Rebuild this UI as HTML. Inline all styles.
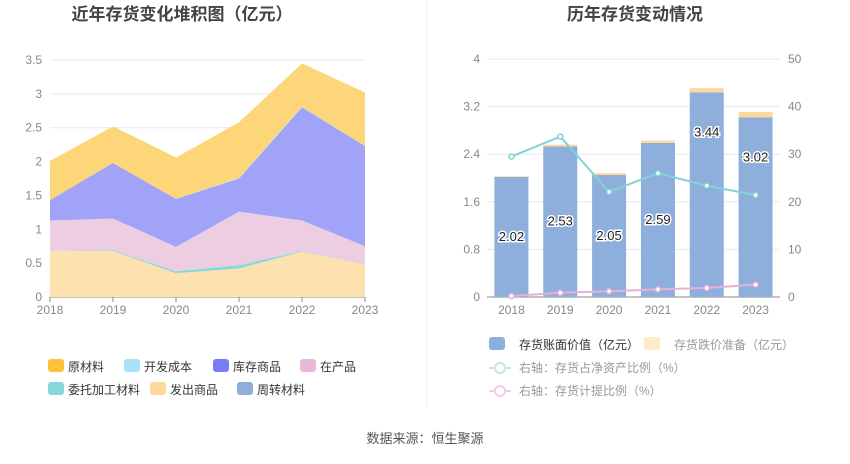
<!DOCTYPE html>
<html><head><meta charset="utf-8"><style>
body{margin:0;background:#fff;font-family:"Liberation Sans","Noto Sans CJK SC",sans-serif;}
svg text{font-family:"Liberation Sans","Noto Sans CJK SC",sans-serif;}
</style></head><body>
<svg id="c" width="850" height="459" xmlns="http://www.w3.org/2000/svg">
<text x="182" y="20" font-size="17" font-weight="bold" fill="#444" text-anchor="middle">近年存货变化堆积图（亿元）</text>
<text x="635" y="20" font-size="17" font-weight="bold" fill="#444" text-anchor="middle">历年存货变动情况</text>
<line x1="427" y1="0" x2="427" y2="408" stroke="#f0f0f0"/>
<g id="left"></g>
<g id="right"></g>
<g id="legL"></g>
<g id="legR"></g>
<text x="425" y="443" font-size="13" fill="#555" text-anchor="middle">数据来源：恒生聚源</text>
</svg>
<script>
const years=["2018","2019","2020","2021","2022","2023"];
const faChu=[0.68,0.68,0.35,0.42,0.67,0.48];
const weiTuo=[0,0.01,0.03,0.05,0.01,0];
const zaiChan=[0.45,0.47,0.36,0.79,0.45,0.27];
const kuCun=[0.30,0.82,0.71,0.49,1.67,1.48];
const kaiFa=[0,0,0,0.01,0.01,0];
const yuanCai=[0.58,0.54,0.61,0.82,0.64,0.79];
const zhouZhuan=[0,0,0,0,0,0];
const leftTicks=[0,0.5,1,1.5,2,2.5,3,3.5];
const bookValue=[2.02,2.53,2.05,2.59,3.44,3.02];
const reserve=[0.01,0.03,0.03,0.04,0.07,0.09];
const ratioNet=[29.5,33.7,22.1,26.0,23.4,21.4];
const ratioProv=[0.2,0.9,1.2,1.6,1.9,2.6];
const rightTicksL=[0,0.8,1.6,2.4,3.2,4];
const rightTicksR=[0,10,20,30,40,50];

const NS="http://www.w3.org/2000/svg";
function mk(p,t,a){const e=document.createElementNS(NS,t);for(const k in a)e.setAttribute(k,a[k]);p.appendChild(e);return e;}
// left chart
const L=document.getElementById('left');
const lx=i=>50+i*63, ly=v=>297-v*(237/3.5);
leftTicks.forEach(t=>{
  const g=mk(L,'line',{x1:50,x2:365,y1:ly(t),y2:ly(t),stroke:t?'#e3e8f3':'#888'});
  
  const tx=mk(L,'text',{x:42,y:ly(t)+4,'font-size':12,fill:'#888','text-anchor':'end'});tx.textContent=t;
  
});
years.forEach((y,i)=>{
  const tx=mk(L,'text',{x:lx(i),y:314,'font-size':12,fill:'#888','text-anchor':'middle'});tx.textContent=y;
  
  mk(L,'line',{x1:lx(i),x2:lx(i),y1:297,y2:302,stroke:'#888'});
});
const series=[["发出商品",faChu,"#fde2b0"],["委托加工材料",weiTuo,"#8ad8d8"],["在产品",zaiChan,"#edcde2"],["库存商品",kuCun,"#a0a3f8"],["开发成本",kaiFa,"#a8e2f8"],["原材料",yuanCai,"#fed67a"],["周转材料",zhouZhuan,"#8eaedc"]];
let base=years.map(()=>0);
series.forEach(([n,v,c])=>{
  const top=base.map((b,i)=>b+v[i]);
  let d='M'+years.map((_,i)=>lx(i)+','+ly(top[i])).join('L');
  for(let i=years.length-1;i>=0;i--)d+='L'+lx(i)+','+ly(base[i]);
  const p=mk(L,'path',{d:d+'Z',fill:c});
  
  base=top;
});
// right chart
const R=document.getElementById('right');
const bw=293/6, rx=i=>487+bw*(i+0.5), ryl=v=>297-v*(238/4), ryr=v=>297-v*(238/50);
rightTicksL.forEach((t,k)=>{
  const g=mk(R,'line',{x1:487,x2:780,y1:ryl(t),y2:ryl(t),stroke:t?'#e3e8f3':'#888'});
  
  const tx=mk(R,'text',{x:480,y:ryl(t)+4,'font-size':12,fill:'#888','text-anchor':'end'});tx.textContent=t;
  
});
rightTicksR.forEach(t=>{
  const tx=mk(R,'text',{x:788,y:ryr(t)+4,'font-size':12,fill:'#888'});tx.textContent=t;
  
});
years.forEach((y,i)=>{
  const tx=mk(R,'text',{x:rx(i),y:314,'font-size':12,fill:'#888','text-anchor':'middle'});tx.textContent=y;
  
  const b=mk(R,'rect',{x:rx(i)-17,y:ryl(bookValue[i]),width:34,height:ryl(0)-ryl(bookValue[i]),fill:'#8eaedc'});
  
  const r=mk(R,'rect',{x:rx(i)-17,y:ryl(bookValue[i]+reserve[i]),width:34,height:ryl(0)-ryl(reserve[i]),fill:'#fdd89a'});
  
});
[[ratioNet,'#80d4d6','line-net-asset-ratio'],[ratioProv,'#e8b0d8','line-provision-ratio']].forEach(([v,c,n])=>{
  const p=mk(R,'polyline',{points:v.map((d,i)=>rx(i)+','+ryr(d)).join(' '),fill:'none',stroke:c,'stroke-width':2});
  
  v.forEach((d,i)=>{const ci=mk(R,'circle',{cx:rx(i),cy:ryr(d),r:2.5,fill:'#fff',stroke:c,'stroke-width':1.5});
    });
});
bookValue.forEach((v,i)=>{
  const yy=i<4?ryl(v/2)+4:ryl(v)+44;
  const tx=mk(R,'text',{x:rx(i),y:yy,'font-size':13,fill:'#222','text-anchor':'middle',stroke:'#fff','stroke-width':3,'paint-order':'stroke'});tx.textContent=v.toFixed(2);
  
});
// legends
const LL=document.getElementById('legL');
[["原材料","#fec23e",48,367],["开发成本","#a8e2f8",124,367],["库存商品","#7a7cf6",213,367],["在产品","#e8b8d8",300,367],["委托加工材料","#86d8d8",48,390],["发出商品","#fdd89a",150,390],["周转材料","#8eaedc",237,390]].forEach(([n,c,x,y])=>{
  const r=mk(LL,'rect',{x:x-36+48-12,y:y-8,width:16,height:13,rx:3,fill:c});r.setAttribute('x',x);
  
  const t=mk(LL,'text',{x:x+20,y:y+4,'font-size':12,fill:'#333'});t.textContent=n;
  
});
const LR=document.getElementById('legR');
[["存货账面价值（亿元）","#8eaedc",489,345,'#333'],["存货跌价准备（亿元）","#feebc8",644,345,'#999']].forEach(([n,c,x,y,tc])=>{
  const r=mk(LR,'rect',{x:x,y:y-8,width:16,height:13,rx:3,fill:c});
  
  const t=mk(LR,'text',{x:x+30,y:y+4,'font-size':12,fill:tc});t.textContent=n;
  
});
[["右轴：存货占净资产比例（%）","#bfe8ea",368],["右轴：存货计提比例（%）","#f2cde6",391]].forEach(([n,c,y])=>{
  mk(LR,'line',{x1:489,x2:511,y1:y,y2:y,stroke:c,'stroke-width':2});
  mk(LR,'circle',{cx:500,cy:y,r:5,fill:'#fff',stroke:c,'stroke-width':2});
  const t=mk(LR,'text',{x:519,y:y+4,'font-size':12,fill:'#999'});t.textContent=n;
  
});
</script>
</body></html>
